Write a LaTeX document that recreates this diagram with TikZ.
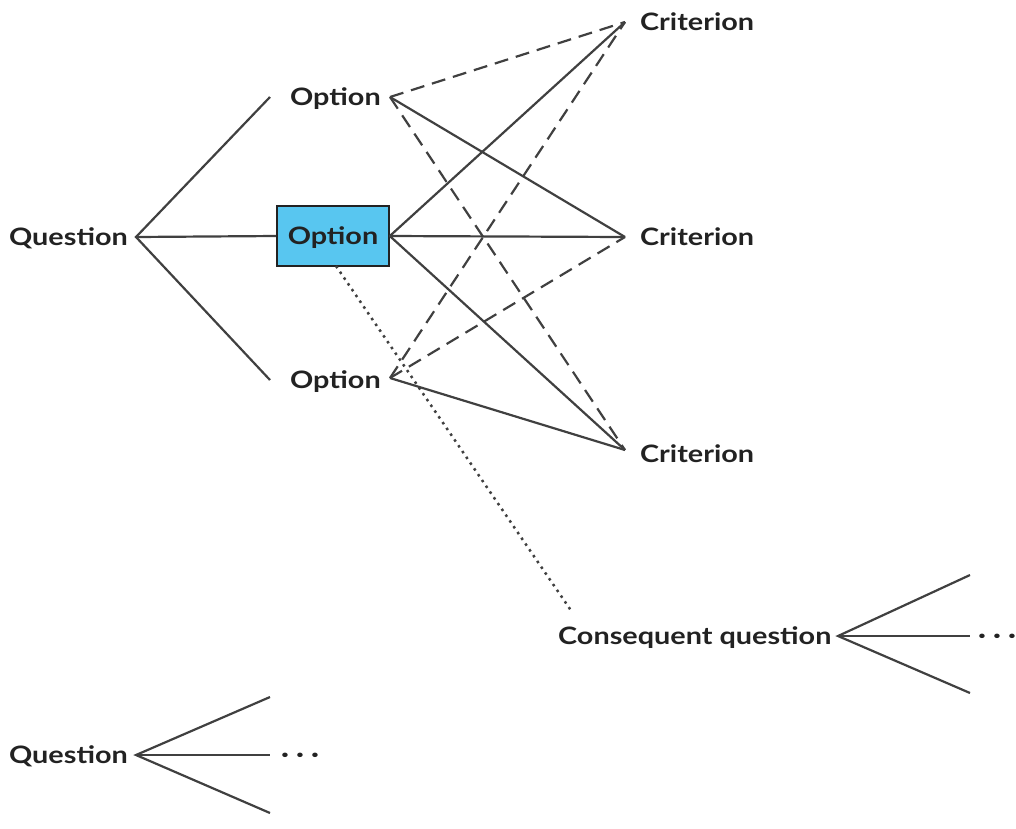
\documentclass[tikz,border=0pt]{standalone}
\usepackage{fontspec}
\setmainfont{Lato}
\newfontfamily\lblfont{Lato}[FakeStretch=1.2]
\definecolor{ink}{RGB}{34,34,34}
\definecolor{wire}{RGB}{64,64,64}
\definecolor{pick}{RGB}{88,198,240}
\begin{document}
\begin{tikzpicture}[x=1pt,y=-1pt,
  lbl/.style={font=\lblfont\bfseries\fontsize{24}{28}\selectfont, text=ink, inner sep=0pt},
  link/.style={draw=wire, line width=2.2pt},
  alt/.style={link, dash pattern=on 14pt off 8pt},
  hint/.style={draw=wire, line width=2.5pt, dash pattern=on 2.5pt off 4.5pt}]
\useasboundingbox (0,0) rectangle (1016,828);

% first decision: question, options, criteria
\node[lbl, anchor=base east] (q) at (128,245) {Question};
\coordinate (qj) at (136,237);

\node[lbl, anchor=base west] (o1) at (290,105) {Option};
\node[lbl, anchor=center, draw=ink, line width=1.6pt, fill=pick,
      text height=18pt, text depth=2pt,
      minimum width=112pt, minimum height=60pt] (o2) at (333,236) {Option};
\node[lbl, anchor=base west] (o3) at (290,388) {Option};
\coordinate (o1in) at (270,97);
\coordinate (o3in) at (270,380);
\coordinate (o1j) at (390,97);
\coordinate (o3j) at (390,378);

\node[lbl, anchor=base west] (c1) at (640,30) {Criterion};
\node[lbl, anchor=base west] (c2) at (640,245) {Criterion};
\node[lbl, anchor=base west] (c3) at (640,462) {Criterion};
\coordinate (c1j) at (625,22);
\coordinate (c2j) at (625,237);
\coordinate (c3j) at (625,450);

% question to options
\draw[link] (o1in) -- (qj) -- (o3in);
\draw[link] (qj) -- (o2.west);

% options to criteria
\draw[alt]  (o1j) -- (c1j);
\draw[link] (o1j) -- (c2j);
\draw[alt]  (o1j) -- (c3j);
\draw[link] (o2.east) -- (c1j);
\draw[link] (o2.east) -- (c2j);
\draw[link] (o2.east) -- (c3j);
\draw[alt]  (o3j) -- (c1j);
\draw[alt]  (o3j) -- (c2j);
\draw[link] (o3j) -- (c3j);

% consequent question
\node[lbl, anchor=base west] (cq) at (558,644) {Consequent question};
\coordinate (cqj) at (838,636);
\coordinate (cqa) at (970,575);
\coordinate (cqb) at (970,636);
\coordinate (cqc) at (970,693);
\node[lbl, anchor=base west] (cqd) at (978,643) {· · ·};
\coordinate (o2s) at (336,266);
\coordinate (cqt) at (572,612);
\draw[hint] (o2s) -- (cqt);
\draw[link] (cqa) -- (cqj) -- (cqc);
\draw[link] (cqj) -- (cqb);

% another question
\node[lbl, anchor=base east] (q2) at (128,763) {Question};
\coordinate (q2j) at (136,755);
\coordinate (q2a) at (270,697);
\coordinate (q2b) at (270,755);
\coordinate (q2c) at (270,813);
\node[lbl, anchor=base west] (q2d) at (281,762) {· · ·};
\draw[link] (q2a) -- (q2j) -- (q2c);
\draw[link] (q2j) -- (q2b);
\end{tikzpicture}
\end{document}
